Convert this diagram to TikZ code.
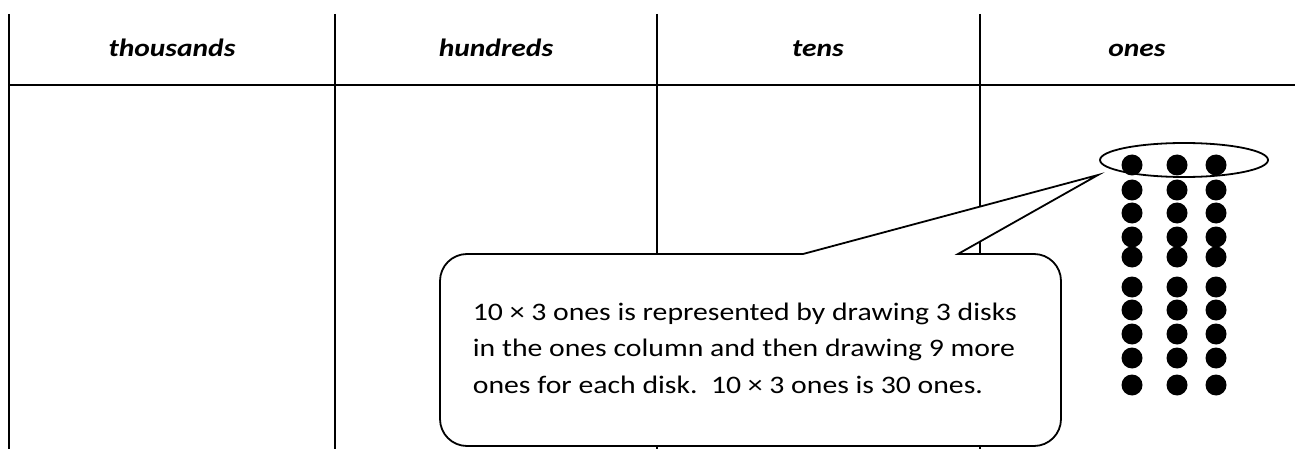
\documentclass[tikz,border=0pt]{standalone}
\usepackage{fontspec}
\setmainfont{Carlito}[FakeStretch=1.18]
\usetikzlibrary{calc}

\begin{document}
\begin{tikzpicture}[x=1pt, y=-1pt, line width=1.8pt,
  head/.style={anchor=base, font=\fontsize{25}{30}\selectfont\bfseries\itshape},
  disk/.style={fill=black}]

  \useasboundingbox (0,0) rectangle (1295,449);

  % Place value chart
  \draw (9,14) -- (9,449);
  \foreach \x in {335,657,980}
    \draw (\x,14) -- (\x,449);
  \draw (9,85) -- (1295,85);

  % Column headings
  \node[head] (thousands) at (172,57) {thousands};
  \node[head] (hundreds) at (496,57) {hundreds};
  \node[head] (tens) at (818,57) {tens};
  \node[head] (ones) at (1137,57) {ones};

  % Disks in the ones column
  \foreach \x in {1132,1177,1216}
    \foreach \y in {165,190,213,237,257,287,310,334,358,385}
      \fill[disk] (\x,\y) circle[radius=10.5pt];

  % Ring round the first three disks
  \draw (1184,160) ellipse[x radius=84pt, y radius=17pt];

  % Speech bubble
  \coordinate (tip) at (1098,175);
  \filldraw[fill=white] (600,254) -- (803,254) -- (tip) -- (958,254) -- (1000,254)
    [rounded corners=27pt] -- (1061,254) -- (1061,446) -- (440,446) -- (440,254) -- cycle;
  \node[anchor=base west, align=left, inner sep=0pt,
        font=\fontsize{25.2}{36.5}\selectfont] (note) at (472,393)
    {10 × 3 ones is represented by drawing 3 disks\\
     in the ones column and then drawing 9 more\\
     ones for each disk.\ \ 10 × 3 ones is 30 ones.};

\end{tikzpicture}
\end{document}
